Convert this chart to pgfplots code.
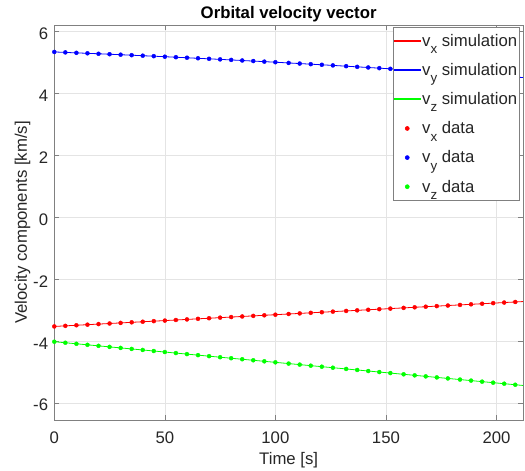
\documentclass[border=0pt]{standalone}
\usepackage{fontspec}
\setmainfont{Liberation Sans}
\usepackage{pgfplots}
\usepackage{pgfplotstable}
\pgfplotsset{compat=1.18}
\definecolor{txt}{RGB}{38,38,38}
\definecolor{axc}{RGB}{128,128,128}
\definecolor{gridc}{RGB}{228,228,228}
\newcommand{\sub}[1]{\raisebox{-7.3bp}{\fontsize{13.4}{13.4}\selectfont #1}}
\newcommand{\fs}{\fontsize{16.8}{19}\selectfont}

\pgfplotstableread{
t vx vy vz
0 -3.530 5.330 -4.023
5 -3.511 5.316 -4.056
10 -3.492 5.302 -4.090
15 -3.473 5.287 -4.123
20 -3.454 5.272 -4.156
25 -3.435 5.257 -4.190
30 -3.416 5.242 -4.223
35 -3.397 5.226 -4.256
40 -3.378 5.210 -4.289
45 -3.359 5.194 -4.323
50 -3.341 5.177 -4.356
55 -3.322 5.161 -4.389
60 -3.303 5.144 -4.423
65 -3.284 5.127 -4.456
70 -3.265 5.109 -4.489
75 -3.246 5.091 -4.523
80 -3.227 5.073 -4.556
85 -3.208 5.055 -4.589
90 -3.189 5.037 -4.622
95 -3.170 5.018 -4.656
100 -3.151 4.999 -4.689
106 -3.128 4.976 -4.729
111 -3.109 4.956 -4.762
116 -3.090 4.936 -4.796
121 -3.071 4.916 -4.829
126 -3.052 4.896 -4.862
132 -3.030 4.871 -4.902
137 -3.011 4.850 -4.935
142 -2.992 4.829 -4.969
147 -2.973 4.807 -5.002
152 -2.954 4.786 -5.035
158 -2.931 4.759 -5.075
163 -2.912 4.737 -5.109
168 -2.893 4.715 -5.142
173 -2.874 4.692 -5.175
178 -2.855 4.669 -5.208
183.5 -2.835 4.643 -5.245
188.5 -2.816 4.620 -5.278
193.5 -2.797 4.596 -5.312
198.5 -2.778 4.571 -5.345
203.5 -2.759 4.547 -5.378
208.5 -2.740 4.522 -5.412
}\datatab

\pgfplotstableread{
t vx vy vz
0 -3.530 5.330 -4.023
25 -3.435 5.257 -4.190
50 -3.341 5.177 -4.356
75 -3.246 5.091 -4.523
100 -3.151 4.999 -4.689
126 -3.052 4.896 -4.862
152 -2.954 4.786 -5.035
178 -2.855 4.669 -5.208
198.5 -2.778 4.571 -5.345
212 -2.727 4.504 -5.435
}\simtab

\pgfplotsset{
  simleg/.style={legend image code/.code={\fill[#1] (0bp,-0.45bp) rectangle (26bp,0.45bp);}},
  dataleg/.style={legend image code/.code={\path (0bp,0bp) (26bp,0bp);\fill[#1] (13bp,0bp) circle[radius=2bp];}},
}

\begin{document}
\begin{tikzpicture}
\useasboundingbox (-54.3bp,-51bp) rectangle (470.7bp,420bp);
\begin{axis}[
  at={(0,0)}, anchor=south west,
  scale only axis, width=468.7bp, height=395bp,
  xmin=0, xmax=212, ymin=-6.55, ymax=6.2,
  xtick={0,50,100,150,200}, ytick={-6,-4,-2,0,2,4,6},
  tick align=inside, major tick length=5bp,
  grid=major, grid style={gridc, line width=0.5bp},
  axis line style={axc, line width=0.6bp},
  tick style={axc, line width=0.6bp},
  /pgf/number format/assume math mode=true,
  every tick label/.append style={font=\fs, text=txt},
  xticklabel style={anchor=base, yshift=-23.3bp, inner sep=0pt},
  yticklabel style={anchor=base east, xshift=-6bp, yshift=-8bp, inner sep=0pt},
  every axis title shift=0pt,
  title={Orbital velocity vector},
  title style={at={(axis description cs:0.5,1)}, anchor=base, yshift=6.5bp, inner sep=0pt, font=\bfseries\fs, text=black},
  xlabel={Time [s]},
  xlabel style={at={(axis description cs:0.5,0)}, anchor=base, yshift=-44.7bp, inner sep=0pt, font=\fs, text=txt},
  ylabel={Velocity components [km/s]},
  ylabel style={at={(axis description cs:-0.0678,0.5)}, anchor=center, rotate=0, inner sep=0pt, font=\fs, text=txt},
  legend style={at={(axis description cs:0.9936,0.995)}, anchor=north east,
    draw=axc, line width=0.6bp, fill=white, font=\fs, text=txt,
    inner xsep=1bp, inner ysep=6bp, row sep=13.5bp,
    nodes={inner xsep=1.5bp, inner ysep=1bp}},
  legend cell align=left,
]
\addplot[color=red, line width=0.8bp, no markers, simleg=red] table[x=t, y=vx] {\simtab};
\addlegendentry{v\sub{x} simulation}
\addplot[color=blue, line width=0.8bp, no markers, simleg=blue] table[x=t, y=vy] {\simtab};
\addlegendentry{v\sub{y} simulation}
\addplot[color=green, line width=0.8bp, no markers, simleg=green] table[x=t, y=vz] {\simtab};
\addlegendentry{v\sub{z} simulation}
\addplot[color=red, only marks, mark=*, mark size=2bp, dataleg=red] table[x=t, y=vx] {\datatab};
\addlegendentry{v\sub{x} data}
\addplot[color=blue, only marks, mark=*, mark size=2bp, dataleg=blue] table[x=t, y=vy] {\datatab};
\addlegendentry{v\sub{y} data}
\addplot[color=green, only marks, mark=*, mark size=2bp, dataleg=green] table[x=t, y=vz] {\datatab};
\addlegendentry{v\sub{z} data}
\end{axis}
\end{tikzpicture}
\end{document}
